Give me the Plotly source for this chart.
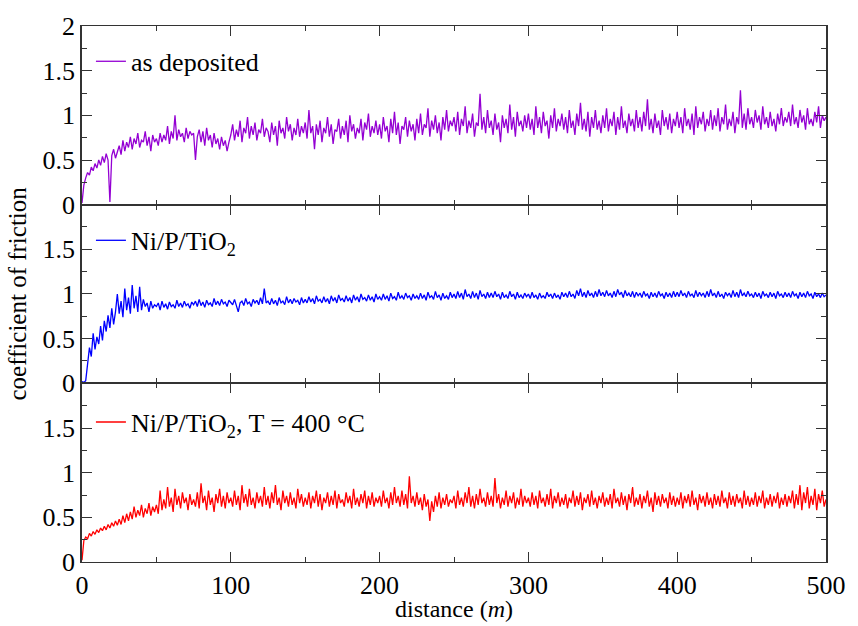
import plotly.graph_objects as go
from plotly.subplots import make_subplots

step = 1.25
distance = [i * step for i in range(401)]

as_deposited = [
    0.02, 0.22, 0.30, 0.36, 0.33, 0.42, 0.38, 0.46, 0.41, 0.50, 0.44, 0.54, 0.47, 0.57, 0.50, 0.03, 0.55, 0.62, 0.52, 0.60,
    0.66, 0.56, 0.72, 0.60, 0.70, 0.64, 0.76, 0.62, 0.74, 0.68, 0.80, 0.64, 0.72, 0.70, 0.82, 0.66, 0.76, 0.60, 0.78, 0.70,
    0.74, 0.66, 0.80, 0.70, 0.78, 0.72, 0.88, 0.68, 0.82, 0.74, 1.00, 0.72, 0.84, 0.76, 0.80, 0.70, 0.86, 0.74, 0.82, 0.78,
    0.80, 0.50, 0.76, 0.84, 0.70, 0.82, 0.66, 0.86, 0.72, 0.78, 0.64, 0.80, 0.68, 0.74, 0.62, 0.76, 0.66, 0.72, 0.60, 0.70,
    0.78, 0.90, 0.72, 0.84, 0.76, 0.94, 0.70, 0.86, 0.80, 0.98, 0.74, 0.88, 0.78, 0.92, 0.72, 0.84, 0.80, 0.96, 0.76, 0.86,
    0.82, 0.70, 0.92, 0.78, 0.88, 0.66, 0.94, 0.80, 0.86, 0.74, 0.98, 0.82, 0.90, 0.72, 0.86, 0.78, 0.96, 0.76, 0.88, 0.80,
    0.92, 0.74, 1.06, 0.80, 0.88, 0.62, 0.90, 0.78, 0.94, 0.70, 0.86, 0.80, 0.98, 0.76, 0.90, 0.68, 0.84, 0.82, 0.96, 0.74,
    0.88, 0.78, 0.94, 0.70, 1.00, 0.82, 0.90, 0.74, 0.86, 0.80, 0.96, 0.72, 0.92, 0.84, 1.02, 0.76, 0.88, 0.80, 0.94, 0.78,
    0.90, 0.74, 0.98, 0.82, 0.88, 0.70, 0.96, 0.80, 1.04, 0.78, 0.92, 0.68, 0.88, 0.84, 0.98, 0.76, 0.94, 0.82, 0.90, 0.72,
    0.96, 0.80, 1.02, 0.78, 0.90, 0.86, 1.08, 0.76, 0.94, 0.84, 1.00, 0.80, 0.92, 0.72, 0.98, 0.84, 1.06, 0.82, 0.94, 0.88,
    0.98, 0.82, 1.04, 0.78, 0.96, 0.88, 1.10, 0.80, 0.94, 0.86, 1.02, 0.76, 0.92, 0.88, 1.24, 0.84, 0.98, 0.80, 1.06, 0.86,
    0.94, 0.78, 1.02, 0.84, 0.92, 0.70, 1.00, 0.86, 0.96, 0.80, 1.12, 0.84, 0.98, 0.76, 1.04, 0.88, 0.94, 0.82, 1.00, 0.86,
    1.02, 0.84, 0.96, 0.78, 1.10, 0.86, 0.98, 0.80, 1.04, 0.88, 0.94, 0.74, 1.00, 0.86, 1.08, 0.82, 0.96, 0.88, 1.02, 0.84,
    0.98, 0.80, 1.06, 0.86, 0.94, 0.78, 1.02, 0.88, 1.14, 0.84, 0.96, 0.82, 1.04, 0.76, 0.98, 0.86, 1.06, 0.84, 0.94, 0.80,
    1.00, 0.86, 1.08, 0.82, 0.96, 0.88, 1.04, 0.78, 0.98, 0.84, 1.10, 0.86, 0.94, 0.80, 1.02, 0.88, 0.96, 0.82, 1.06, 0.86,
    0.98, 0.82, 1.04, 0.88, 1.18, 0.84, 0.96, 0.80, 1.02, 0.86, 0.94, 0.78, 1.06, 0.88, 0.98, 0.84, 1.02, 0.80, 0.96, 0.88,
    1.04, 0.86, 0.98, 0.80, 1.08, 0.88, 0.96, 0.84, 1.02, 0.78, 1.10, 0.86, 0.98, 0.90, 1.04, 0.82, 0.96, 0.88, 1.06, 0.84,
    1.00, 0.88, 1.08, 0.82, 0.98, 0.90, 1.12, 0.84, 0.96, 0.88, 1.04, 0.80, 0.98, 0.90, 1.28, 0.86, 1.02, 0.84, 1.08, 0.90,
    0.98, 0.86, 1.06, 0.92, 1.00, 0.84, 1.10, 0.90, 0.98, 0.86, 1.04, 0.88, 0.96, 0.82, 1.02, 0.90, 1.08, 0.88, 0.98, 0.92,
    1.04, 0.88, 1.12, 0.90, 0.98, 0.86, 1.06, 0.92, 1.00, 0.84, 1.08, 0.90, 0.96, 0.88, 1.04, 0.92, 1.10, 0.86, 1.00, 0.94,
    0.98,
]

ni_p_tio2 = [
    0.02, 0.01, 0.03, 0.22, 0.40, 0.30, 0.56, 0.38, 0.52, 0.44, 0.64, 0.48, 0.70, 0.58, 0.76, 0.62, 0.84, 0.66, 0.80, 1.00,
    0.78, 0.92, 0.74, 1.06, 0.82, 0.96, 0.78, 1.10, 0.84, 0.98, 0.80, 1.08, 0.82, 0.94, 0.86, 0.90, 0.80, 0.92, 0.84, 0.88,
    0.86, 0.90, 0.82, 0.92, 0.85, 0.89, 0.83, 0.91, 0.86, 0.88, 0.84, 0.93, 0.86, 0.90, 0.85, 0.92, 0.87, 0.89, 0.84, 0.91,
    0.88, 0.92, 0.86, 0.94, 0.87, 0.91, 0.85, 0.93, 0.88, 0.90, 0.86, 0.95, 0.88, 0.92, 0.87, 0.94, 0.89, 0.91, 0.86, 0.93,
    0.90, 0.88, 0.94, 0.86, 0.80, 0.90, 0.92, 0.87, 0.95, 0.89, 0.91, 0.86, 0.94, 0.90, 0.93, 0.88, 0.96, 0.89, 1.06, 0.90,
    0.92, 0.88, 0.95, 0.89, 0.93, 0.87, 0.96, 0.90, 0.92, 0.88, 0.97, 0.90, 0.94, 0.89, 0.95, 0.91, 0.93, 0.88, 0.96, 0.90,
    0.94, 0.90, 0.97, 0.91, 0.95, 0.89, 0.98, 0.92, 0.94, 0.90, 0.97, 0.91, 0.95, 0.89, 0.98, 0.92, 0.96, 0.90, 0.99, 0.93,
    0.95, 0.91, 0.98, 0.92, 0.96, 0.90, 0.99, 0.93, 0.97, 0.91, 1.00, 0.94, 0.96, 0.92, 0.99, 0.93, 0.97, 0.91, 1.00, 0.94,
    0.97, 0.93, 1.00, 0.94, 0.98, 0.92, 1.01, 0.95, 0.97, 0.93, 1.02, 0.95, 0.98, 0.94, 1.01, 0.96, 0.98, 0.93, 1.00, 0.95,
    0.98, 0.94, 1.01, 0.95, 0.99, 0.93, 1.02, 0.96, 0.98, 0.94, 1.03, 0.96, 0.99, 0.93, 1.01, 0.95, 0.98, 0.94, 1.02, 0.96,
    1.00, 0.95, 1.03, 0.96, 1.01, 0.94, 1.05, 0.97, 1.00, 0.95, 1.03, 0.96, 1.01, 0.94, 1.04, 0.97, 1.00, 0.95, 1.02, 0.96,
    1.01, 0.96, 1.03, 0.97, 1.00, 0.94, 1.02, 0.96, 0.99, 0.95, 1.03, 0.97, 1.00, 0.94, 1.02, 0.96, 0.99, 0.95, 1.01, 0.97,
    1.00, 0.95, 1.02, 0.96, 0.99, 0.94, 1.01, 0.96, 0.98, 0.95, 1.02, 0.97, 1.00, 0.95, 1.01, 0.96, 0.99, 0.94, 1.02, 0.97,
    1.01, 0.96, 1.03, 0.97, 1.00, 0.95, 1.04, 0.98, 1.06, 0.97, 1.02, 0.96, 1.04, 0.98, 1.01, 0.96, 1.03, 0.97, 1.05, 0.98,
    1.02, 0.97, 1.04, 0.98, 1.01, 0.96, 1.03, 0.97, 1.05, 0.99, 1.02, 0.96, 1.04, 0.98, 1.01, 0.97, 1.03, 0.96, 1.02, 0.98,
    1.01, 0.96, 1.03, 0.98, 1.00, 0.95, 1.02, 0.97, 1.01, 0.96, 1.03, 0.98, 1.00, 0.95, 1.02, 0.97, 1.01, 0.96, 1.03, 0.97,
    1.02, 0.97, 1.04, 0.98, 1.01, 0.96, 1.03, 0.98, 1.00, 0.96, 1.04, 0.97, 1.02, 0.98, 1.01, 0.96, 1.03, 0.97, 1.05, 0.98,
    1.01, 0.96, 1.03, 0.97, 1.00, 0.95, 1.02, 0.98, 1.01, 0.96, 1.04, 0.97, 1.02, 0.96, 1.05, 0.98, 1.01, 0.97, 1.03, 0.98,
    1.00, 0.96, 1.02, 0.97, 1.01, 0.95, 1.03, 0.98, 1.00, 0.96, 1.02, 0.97, 1.01, 0.95, 1.03, 0.98, 1.00, 0.96, 1.02, 0.97,
    1.01, 0.96, 1.03, 0.98, 1.00, 0.95, 1.02, 0.97, 1.01, 0.96, 1.03, 0.98, 1.00, 0.95, 1.02, 0.97, 1.00, 0.96, 1.01, 0.97,
    0.99,
]

ni_p_tio2_400 = [
    0.02, 0.24, 0.28, 0.26, 0.32, 0.29, 0.34, 0.31, 0.36, 0.33, 0.38, 0.35, 0.40, 0.36, 0.42, 0.38, 0.44, 0.40, 0.46, 0.41,
    0.48, 0.42, 0.52, 0.44, 0.54, 0.46, 0.56, 0.48, 0.62, 0.50, 0.58, 0.52, 0.64, 0.50, 0.60, 0.54, 0.66, 0.52, 0.62, 0.56,
    0.64, 0.54, 0.80, 0.58, 0.70, 0.60, 0.84, 0.62, 0.72, 0.56, 0.82, 0.64, 0.74, 0.60, 0.78, 0.66, 0.72, 0.58, 0.76, 0.64,
    0.70, 0.62, 0.78, 0.60, 0.88, 0.66, 0.74, 0.58, 0.80, 0.64, 0.72, 0.56, 0.76, 0.66, 0.82, 0.62, 0.74, 0.60, 0.78, 0.66,
    0.72, 0.62, 0.80, 0.64, 0.74, 0.58, 0.86, 0.66, 0.76, 0.62, 0.82, 0.64, 0.72, 0.60, 0.78, 0.66, 0.74, 0.62, 0.84, 0.64,
    0.74, 0.60, 0.78, 0.66, 0.86, 0.64, 0.72, 0.58, 0.80, 0.66, 0.74, 0.62, 0.78, 0.64, 0.72, 0.60, 0.82, 0.66, 0.76, 0.62,
    0.72, 0.64, 0.78, 0.60, 0.74, 0.66, 0.80, 0.62, 0.76, 0.58, 0.72, 0.66, 0.78, 0.62, 0.74, 0.64, 0.80, 0.60, 0.76, 0.66,
    0.70, 0.62, 0.78, 0.66, 0.74, 0.60, 0.82, 0.64, 0.72, 0.62, 0.76, 0.66, 0.80, 0.60, 0.74, 0.64, 0.78, 0.62, 0.72, 0.66,
    0.74, 0.62, 0.80, 0.66, 0.72, 0.60, 0.78, 0.64, 0.84, 0.66, 0.74, 0.62, 0.80, 0.64, 0.76, 0.60, 0.96, 0.66, 0.74, 0.62,
    0.78, 0.64, 0.72, 0.58, 0.76, 0.62, 0.70, 0.46, 0.68, 0.56, 0.74, 0.62, 0.78, 0.60, 0.72, 0.64, 0.76, 0.62, 0.70, 0.66,
    0.74, 0.60, 0.80, 0.64, 0.72, 0.62, 0.78, 0.66, 0.84, 0.62, 0.74, 0.60, 0.76, 0.64, 0.82, 0.66, 0.72, 0.62, 0.78, 0.64,
    0.74, 0.62, 0.94, 0.66, 0.76, 0.60, 0.72, 0.64, 0.80, 0.62, 0.74, 0.66, 0.78, 0.60, 0.72, 0.64, 0.82, 0.62, 0.74, 0.66,
    0.72, 0.62, 0.78, 0.64, 0.74, 0.60, 0.80, 0.66, 0.72, 0.62, 0.76, 0.64, 0.82, 0.60, 0.74, 0.66, 0.78, 0.62, 0.72, 0.64,
    0.76, 0.60, 0.72, 0.66, 0.80, 0.62, 0.74, 0.64, 0.78, 0.58, 0.72, 0.66, 0.76, 0.62, 0.80, 0.64, 0.72, 0.60, 0.74, 0.66,
    0.78, 0.62, 0.72, 0.64, 0.76, 0.60, 0.82, 0.66, 0.72, 0.62, 0.78, 0.64, 0.74, 0.58, 0.76, 0.66, 0.84, 0.62, 0.72, 0.64,
    0.76, 0.60, 0.74, 0.66, 0.80, 0.62, 0.72, 0.56, 0.78, 0.64, 0.74, 0.62, 0.76, 0.66, 0.72, 0.60, 0.78, 0.64, 0.74, 0.62,
    0.72, 0.64, 0.78, 0.60, 0.74, 0.66, 0.76, 0.62, 0.80, 0.64, 0.72, 0.58, 0.76, 0.66, 0.74, 0.62, 0.78, 0.64, 0.72, 0.60,
    0.76, 0.64, 0.74, 0.62, 0.80, 0.66, 0.72, 0.60, 0.78, 0.64, 0.74, 0.62, 0.76, 0.66, 0.72, 0.60, 0.80, 0.64, 0.74, 0.62,
    0.72, 0.64, 0.78, 0.62, 0.74, 0.66, 0.80, 0.60, 0.72, 0.64, 0.76, 0.62, 0.74, 0.66, 0.78, 0.60, 0.72, 0.64, 0.76, 0.62,
    0.74, 0.66, 0.80, 0.60, 0.76, 0.64, 0.86, 0.58, 0.78, 0.66, 0.84, 0.60, 0.74, 0.64, 0.82, 0.58, 0.76, 0.66, 0.80, 0.62,
    0.70,
]

series = [
    ("as deposited", as_deposited, "#9400d3"),
    ("Ni/P/TiO<sub>2</sub>", ni_p_tio2, "#0000ff"),
    ("Ni/P/TiO<sub>2</sub>, T = 400 °C", ni_p_tio2_400, "#ff0000"),
]

x_ticks = [0, 100, 200, 300, 400, 500]
y_ticks_top = [0, 0.5, 1, 1.5, 2]
y_ticks_lower = [0, 0.5, 1, 1.5]

FONT = "Liberation Serif"
AXC = "#333333"
TICKFONT = dict(family=FONT, size=26, color="black")

fig = make_subplots(rows=3, cols=1, shared_xaxes=True, vertical_spacing=0)

legend_names = ["legend", "legend2", "legend3"]
for i, (name, vals, color) in enumerate(series):
    fig.add_trace(
        go.Scatter(x=distance, y=vals, mode="lines", name=name,
                   line=dict(color=color, width=1.3),
                   legend=legend_names[i], showlegend=True),
        row=i + 1, col=1,
    )

legend_y = [0.934, 0.600, 0.261]
for i, ln in enumerate(legend_names):
    fig.update_layout(**{ln: dict(
        x=0.012, y=legend_y[i], xanchor="left", yanchor="middle",
        bgcolor="rgba(0,0,0,0)", borderwidth=0,
        font=dict(family=FONT, size=26, color="black"),
        itemwidth=30, visible=True,
    )})

for r in range(1, 4):
    yt = y_ticks_top if r == 1 else y_ticks_lower
    fig.update_xaxes(
        range=[0, 500], tickmode="array", tickvals=x_ticks,
        ticktext=[str(v) for v in x_ticks],
        ticks="inside", ticklen=10, tickwidth=1, tickcolor=AXC,
        minor=dict(ticks="inside", ticklen=5, tickvals=[50, 150, 250, 350, 450], tickcolor=AXC),
        showline=True, linecolor=AXC, linewidth=1, mirror="allticks",
        showgrid=False, zeroline=False,
        showticklabels=(r == 3),
        tickfont=TICKFONT,
        row=r, col=1,
    )
    fig.update_yaxes(
        range=[0, 2], tickmode="array", tickvals=yt,
        ticktext=[("%g" % v) for v in yt],
        ticks="inside", ticklen=10, tickwidth=1, tickcolor=AXC,
        minor=dict(ticks="inside", ticklen=5, tickvals=[0.25, 0.75, 1.25, 1.75], tickcolor=AXC),
        showline=True, linecolor=AXC, linewidth=1.5, mirror="allticks",
        showgrid=False, zeroline=False,
        tickfont=TICKFONT,
        row=r, col=1,
    )

fig.add_annotation(text="distance (<i>m</i>)", xref="paper", yref="paper",
                   x=0.5, y=-0.088, xanchor="center", yanchor="middle",
                   showarrow=False, font=dict(family=FONT, size=24, color="black"))
fig.add_annotation(text="coefficient of friction", xref="paper", yref="paper",
                   x=-0.088, y=0.5, xanchor="center", yanchor="middle", textangle=-90,
                   showarrow=False, font=dict(family=FONT, size=25, color="black"))

fig.update_layout(
    width=858, height=626,
    margin=dict(l=82, r=25, t=18, b=64),
    plot_bgcolor="white", paper_bgcolor="white",
    font=dict(family=FONT, size=26, color="black"),
)

# remove the page's default 8px body margin so the figure fills the window
fig.write_html("out.html",
               config={"displayModeBar": False},
               post_script="document.body.style.margin='0';document.body.style.overflow='hidden';")
